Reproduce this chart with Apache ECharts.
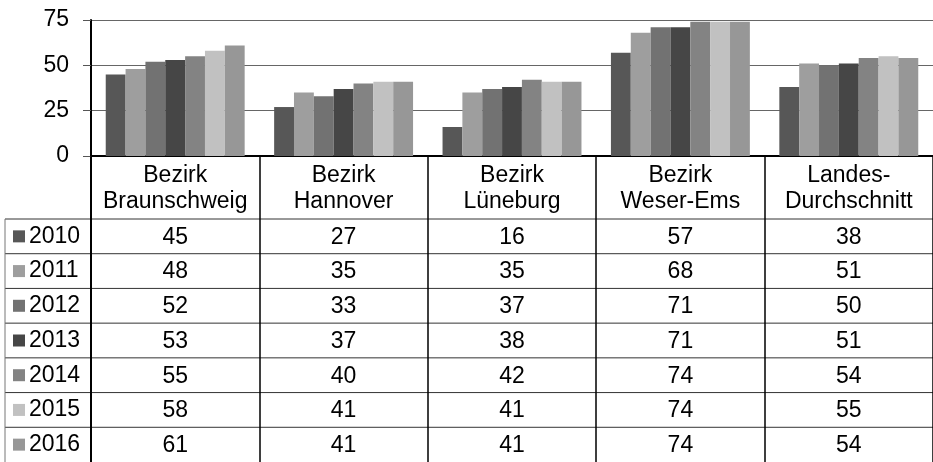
<!DOCTYPE html>
<html>
<head>
<meta charset="utf-8">
<script src="https://cdn.jsdelivr.net/npm/echarts@6/dist/echarts.min.js"></script>
<style>
  html, body { margin: 0; padding: 0; background: #fff; }
  #chart { width: 933px; height: 462px; }
</style>
</head>
<body>
<div id="chart"></div>
<script>
// Kategorien (Bezirke) und Jahre
const categories = ['Bezirk\nBraunschweig', 'Bezirk\nHannover', 'Bezirk\nLüneburg', 'Bezirk\nWeser-Ems', 'Landes-\nDurchschnitt'];
const years = ['2010', '2011', '2012', '2013', '2014', '2015', '2016'];

// Werte je Jahr, Reihenfolge wie categories
const values2010 = [45, 27, 16, 57, 38];
const values2011 = [48, 35, 35, 68, 51];
const values2012 = [52, 33, 37, 71, 50];
const values2013 = [53, 37, 38, 71, 51];
const values2014 = [55, 40, 42, 74, 54];
const values2015 = [58, 41, 41, 74, 55];
const values2016 = [61, 41, 41, 74, 54];
const allValues = [values2010, values2011, values2012, values2013, values2014, values2015, values2016];

const colors = ['#575757', '#9e9e9e', '#727272', '#464646', '#838383', '#c1c1c1', '#979797'];

// Layout
const FONT = 'Liberation Sans, Arial, sans-serif';
const FS = 23;
const W = 933, H = 462;
const gridLeft = 91, gridTop = 20, axisY = 156;
const headerBottom = 219, tableLeft = 5;
const rowH = (H - headerBottom) / years.length;
const legendLH = 24;

const chart = echarts.init(document.getElementById('chart'));

const option = {
  animation: false,
  textStyle: { fontFamily: FONT },
  grid: { left: gridLeft, right: 0, top: gridTop, bottom: H - axisY, containLabel: false },
  legend: {
    orient: 'vertical',
    left: 13,
    top: headerBottom + (rowH - legendLH) / 2,
    itemGap: rowH - legendLH,
    itemWidth: 12,
    itemHeight: 12,
    padding: 0,
    icon: 'rect',
    selectedMode: false,
    data: years,
    textStyle: { fontSize: FS, lineHeight: legendLH, color: '#000', fontFamily: FONT, padding: [0, 0, 0, -1] }
  },
  xAxis: {
    type: 'category',
    data: categories,
    axisLine: { lineStyle: { color: '#000', width: 2 } },
    axisTick: { show: true, length: H - axisY, lineStyle: { color: '#000', width: 1.5 } },
    axisLabel: {
      fontSize: FS, lineHeight: 26, color: '#000', fontFamily: FONT,
      verticalAlign: 'top', margin: 7, interval: 0
    }
  },
  yAxis: {
    type: 'value',
    min: 0, max: 75, interval: 25,
    axisLine: { show: true, lineStyle: { color: '#000', width: 2 } },
    axisTick: { show: true, length: 8, lineStyle: { color: '#555' } },
    axisLabel: { fontSize: FS, color: '#000', margin: 22, fontFamily: FONT },
    splitLine: { lineStyle: { color: '#666', width: 1 } }
  },
  series: years.map((y, i) => ({
    name: y,
    type: 'bar',
    data: allValues[i],
    itemStyle: { color: colors[i] },
    barGap: '0%',
    barCategoryGap: '17.5%'
  }))
};
chart.setOption(option);

// Datentabelle unter dem Diagramm
const graphics = [];
for (let r = 0; r < years.length; r++) {
  const yTop = headerBottom + r * rowH;
  graphics.push({
    type: 'line',
    shape: { x1: tableLeft, y1: yTop, x2: W, y2: yTop },
    style: { stroke: '#333', lineWidth: 1 },
    silent: true
  });
  categories.forEach((c, i) => {
    const cx = chart.convertToPixel({ xAxisIndex: 0 }, i);
    graphics.push({
      type: 'text',
      x: cx,
      y: yTop + rowH / 2 + 1,
      style: {
        text: String(allValues[r][i]),
        fontSize: FS, fontFamily: FONT, fill: '#000',
        align: 'center', verticalAlign: 'middle'
      },
      silent: true
    });
  });
}
// linker Tabellenrand
graphics.push({
  type: 'line',
  shape: { x1: tableLeft, y1: headerBottom, x2: tableLeft, y2: H },
  style: { stroke: '#777', lineWidth: 1 },
  silent: true
});
// Verlängerung der Y-Achse durch die Tabelle
graphics.push({
  type: 'line',
  shape: { x1: gridLeft, y1: axisY, x2: gridLeft, y2: H },
  style: { stroke: '#000', lineWidth: 2 },
  silent: true
});

chart.setOption({ graphic: graphics });
</script>
</body>
</html>
